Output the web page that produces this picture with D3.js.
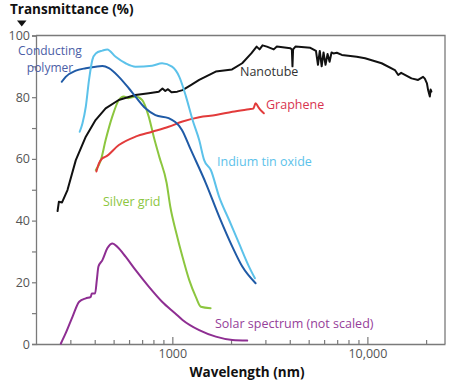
<!DOCTYPE html>
<html>
<head>
<meta charset="utf-8">
<script src="https://cdn.jsdelivr.net/npm/d3@7"></script>
<style>
  html, body { margin: 0; padding: 0; background: #fff; }
  svg { display: block; }
  text { font-family: "Open Sans", "Noto Sans", sans-serif; }
</style>
</head>
<body>
<script>
// ---------- data (wavelength nm, transmittance %) ----------
const yTicks = [0, 10, 20, 30, 40, 50, 60, 70, 80, 90, 100];
const yLabels = [0, 20, 40, 60, 80, 100];
const xMinorTicks = [300, 400, 500, 600, 700, 800, 900, 2000, 3000, 4000, 5000, 6000, 7000, 8000, 9000, 20000];
const xMajorTicks = [1000, 10000];
const xTickLabels = ["1000", "10,000"];

const nanotubeWl = [258, 262, 272, 290, 320, 360, 404, 455, 531, 646, 758, 852, 890, 920, 950, 990, 1060, 1128, 1250, 1373, 1670, 2024, 2281, 2540, 2705, 2800, 2900, 3054, 3312, 3434, 4032, 4100, 4130, 4160, 4277, 5100, 5450, 5580, 5700, 5830, 5960, 6100, 6250, 6400, 6550, 6700, 6970, 7396, 8820, 9730, 11830, 13840, 14390, 14900, 16830, 18200, 19300, 19700, 20200, 20480, 20900, 21100, 21300];
const nanotubeT  = [43.1, 46.1, 45.9, 49.9, 59.6, 67.2, 72.6, 76.4, 79.1, 80.7, 81.3, 81.8, 82.8, 82.0, 82.6, 81.6, 81.8, 82.3, 84.0, 85.6, 88.3, 89.0, 91.0, 94.2, 96.4, 95.5, 96.8, 96.4, 95.5, 96.4, 95.9, 95.5, 90.0, 95.5, 96.4, 96.0, 95.0, 90.5, 95.0, 90.0, 94.5, 90.5, 94.0, 91.5, 94.5, 94.2, 94.4, 93.7, 93.1, 92.6, 91.0, 88.8, 87.2, 87.9, 86.1, 85.6, 86.6, 86.0, 84.5, 82.3, 80.2, 82.5, 81.8];

const polymerWl = [271, 284, 320, 360, 405, 438, 473, 532, 598, 647, 728, 819, 957, 1120, 1245, 1486, 1738, 2032, 2284, 2673];
const polymerT  = [85.0, 86.6, 88.6, 89.4, 89.9, 90.1, 89.4, 86.6, 82.9, 80.2, 76.4, 74.2, 73.2, 69.4, 62.9, 52.1, 41.3, 31.5, 25.1, 19.7];

const itoWl = [335, 346, 360, 374, 389, 405, 438, 464, 512, 576, 647, 788, 886, 996, 1086, 1175, 1270, 1373, 1456, 1575, 1738, 1954, 2198, 2472, 2651];
const itoT  = [68.8, 71.5, 76.9, 85.6, 92.1, 94.2, 95.1, 95.5, 93.1, 91.0, 89.9, 90.2, 91.0, 89.9, 86.6, 80.2, 72.6, 66.1, 59.6, 56.4, 47.7, 40.2, 32.6, 25.1, 21.3];

const grapheneWl = [408, 421, 438, 455, 532, 647, 788, 957, 1128, 1373, 1671, 2032, 2472, 2600, 2673, 2760, 2836, 2946];
const grapheneT  = [55.9, 58.6, 60.2, 60.7, 64.5, 67.2, 68.8, 70.4, 72.1, 73.5, 74.2, 75.3, 76.1, 76.3, 78.0, 76.8, 75.8, 74.8];

const silverWl = [405, 430, 455, 492, 532, 564, 596, 647, 700, 757, 803, 859, 935, 977, 1048, 1128, 1221, 1321, 1400, 1571];
const silverT  = [56.4, 59.6, 66.1, 73.7, 79.1, 80.2, 79.7, 80.2, 79.1, 73.7, 67.2, 60.5, 52.2, 44.4, 36.0, 28.2, 20.7, 15.2, 12.1, 11.6];

const solarWl = [268, 284, 308, 333, 360, 382, 386, 402, 410, 418, 438, 464, 494, 522, 576, 647, 757, 886, 1036, 1128, 1373, 1671, 2032, 2421];
const solarT  = [0.1, 3.5, 8.9, 13.7, 14.8, 15.3, 16.4, 16.4, 20.7, 25.1, 27.2, 31.0, 32.6, 31.5, 28.3, 24.0, 18.6, 13.7, 9.9, 7.8, 4.5, 2.4, 1.3, 1.1];

const seriesNames = ["Nanotube", "Conducting polymer", "Indium tin oxide", "Graphene", "Silver grid", "Solar spectrum (not scaled)"];

// ---------- layout ----------
const W = 450, H = 383;
const svg = d3.select("body").append("svg").attr("width", W).attr("height", H);

const x = d3.scaleLog().domain([200, 25000]).range([36, 445]);
const y = d3.scaleLinear().domain([0, 100]).range([344, 35.5]);

const axisColor = "#7a7a7a";
const labelColor = "#555";

// frame (top & right)
svg.append("path")
  .attr("d", `M${x(200)},${y(100)}H${x(25000)}V${y(0)}`)
  .attr("fill", "none").attr("stroke", axisColor).attr("stroke-width", 1.3);

// y axis
const yAxis = svg.append("g").attr("transform", `translate(${x(200)},0)`)
  .call(d3.axisLeft(y).tickValues(yTicks).tickSize(4).tickPadding(2)
    .tickFormat(d => yLabels.includes(d) ? d : ""));
yAxis.select(".domain").attr("stroke", axisColor).attr("stroke-width", 1.3);
yAxis.selectAll(".tick line").attr("stroke", axisColor).attr("stroke-width", 1.2);
yAxis.selectAll("text").attr("fill", labelColor).style("font-size", "12.5px").style("font-family", "Open Sans");

// x axis: minor ticks
const xMinor = svg.append("g").attr("transform", `translate(0,${y(0)})`)
  .call(d3.axisBottom(x).tickValues(xMinorTicks).tickSizeInner(-4).tickSizeOuter(0).tickFormat(""));
xMinor.select(".domain").attr("stroke", axisColor).attr("stroke-width", 1.3);
xMinor.selectAll(".tick line").attr("stroke", axisColor).attr("stroke-width", 1.2);

// x axis: major ticks with labels
const xMajor = svg.append("g").attr("transform", `translate(0,${y(0)})`)
  .call(d3.axisBottom(x).tickValues(xMajorTicks).tickSizeInner(-7).tickSizeOuter(0).tickPadding(5)
    .tickFormat((d, i) => xTickLabels[i]));
xMajor.select(".domain").remove();
xMajor.selectAll(".tick line").attr("stroke", axisColor).attr("stroke-width", 1.2);
xMajor.selectAll("text").attr("fill", labelColor).style("font-size", "12.5px").style("font-family", "Open Sans");

// ---------- curves ----------
function zip(a, b) { return a.map((v, i) => [v, b[i]]); }
const smooth = d3.line().x(d => x(d[0])).y(d => y(d[1])).curve(d3.curveMonotoneX);
const straight = d3.line().x(d => x(d[0])).y(d => y(d[1]));

const curves = [
  { data: zip(solarWl, solarT), color: "#8e2e92", gen: smooth },
  { data: zip(silverWl, silverT), color: "#8cc63f", gen: smooth },
  { data: zip(grapheneWl, grapheneT), color: "#e23b3b", gen: smooth },
  { data: zip(nanotubeWl, nanotubeT), color: "#111111", gen: straight },
  { data: zip(polymerWl, polymerT), color: "#1f5aa6", gen: smooth },
  { data: zip(itoWl, itoT), color: "#5cc2ea", gen: smooth }
];
svg.append("g").selectAll("path").data(curves).join("path")
  .attr("d", c => c.gen(c.data))
  .attr("fill", "none")
  .attr("stroke", c => c.color)
  .attr("stroke-width", 2)
  .attr("stroke-linejoin", "round")
  .attr("stroke-linecap", "round");

// ---------- labels ----------
const lab = svg.append("g").style("font-size", "12.5px");
lab.append("text").attr("x", 50).attr("y", 55).attr("text-anchor", "middle").attr("fill", "#4b5ea6")
  .style("font-size", "12px").text("Conducting");
lab.append("text").attr("x", 50).attr("y", 71.5).attr("text-anchor", "middle").attr("fill", "#4b5ea6")
  .style("font-size", "12px").text("polymer");
lab.append("text").attr("x", 240).attr("y", 76).attr("fill", "#333").text(seriesNames[0]);
lab.append("text").attr("x", 266).attr("y", 109).attr("fill", "#d8344f").text(seriesNames[3]);
lab.append("text").attr("x", 217).attr("y", 166).attr("fill", "#5cc2ea").text(seriesNames[2]);
lab.append("text").attr("x", 103).attr("y", 206).attr("fill", "#8cc63f").text(seriesNames[4]);
lab.append("text").attr("x", 215).attr("y", 328).attr("fill", "#96409a").text(seriesNames[5]);

// axis titles
svg.append("text").attr("x", 10).attr("y", 14).attr("font-weight", "bold").style("font-size", "13.5px")
  .attr("fill", "#111").text("Transmittance (%)");
svg.append("path").attr("d", "M17,20.5H26.5L21.75,26.5Z").attr("fill", "#111");
svg.append("text").attr("x", 247).attr("y", 377).attr("text-anchor", "middle").attr("font-weight", "bold")
  .style("font-size", "13.5px").attr("fill", "#111").text("Wavelength (nm)");
</script>
</body>
</html>
